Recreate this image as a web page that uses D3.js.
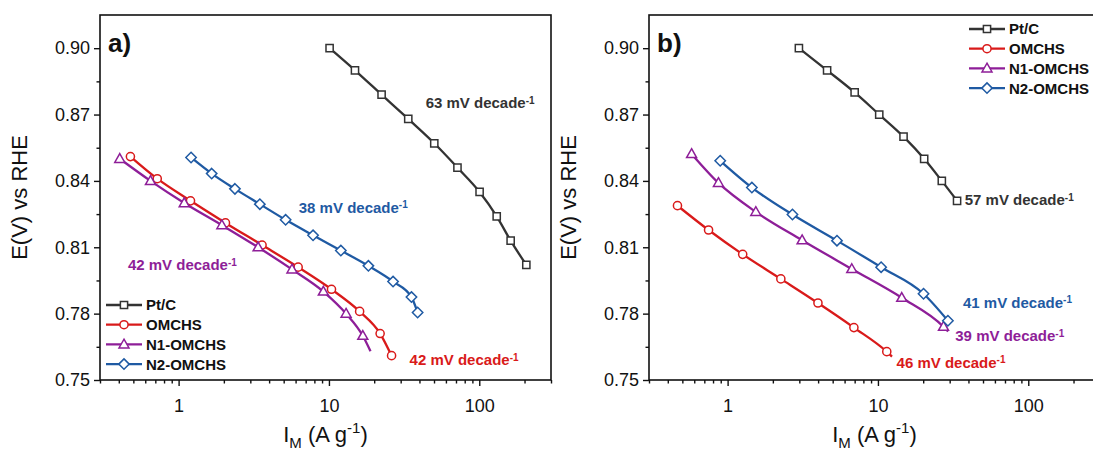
<!DOCTYPE html>
<html>
<head>
<meta charset="utf-8">
<style>
  body { margin: 0; background: #fff; }
  text { font-family: Arial, "Liberation Sans", sans-serif; }
  .tick text { font-size: 18px; fill: #111; }
  .tick line { stroke: #111; stroke-width: 1.4px; }
</style>
<script src="https://d3js.org/d3.v7.min.js"></script>
</head>
<body>
<div id="chart"></div>
<script>
// ---- data ----
// panel a)
var aPtC_I  = [10.1, 14.9, 22.4, 33.7, 50.2, 71.6, 100.5, 130.6, 161.7, 205.6];
var aPtC_E  = [0.900, 0.890, 0.879, 0.868, 0.857, 0.846, 0.835, 0.824, 0.813, 0.802];
var aOM_I   = [0.478, 0.721, 1.20, 2.05, 3.59, 6.24, 10.4, 16.0, 21.9, 26.1];
var aOM_E   = [0.851, 0.841, 0.831, 0.821, 0.811, 0.801, 0.791, 0.781, 0.771, 0.761];
var aN1_I   = [0.406, 0.650, 1.09, 1.94, 3.38, 5.68, 9.18, 13.0, 16.8, 18.9];
var aN1_E   = [0.850, 0.840, 0.830, 0.820, 0.810, 0.800, 0.790, 0.780, 0.770, 0.763];
var aN2_I   = [1.21, 1.66, 2.37, 3.47, 5.15, 7.84, 12.0, 18.3, 26.7, 35.4, 38.9];
var aN2_E   = [0.8506, 0.8433, 0.8364, 0.8295, 0.8224, 0.8154, 0.8085, 0.8016, 0.7945, 0.7875, 0.7805];
// panel b)
var bPtC_I  = [2.98, 4.59, 7.0, 10.2, 14.8, 20.3, 26.6, 33.6];
var bPtC_E  = [0.900, 0.890, 0.880, 0.870, 0.860, 0.850, 0.840, 0.831];
var bOM_I   = [0.464, 0.747, 1.26, 2.26, 3.99, 6.92, 11.45, 12.4];
var bOM_E   = [0.8288, 0.8178, 0.8068, 0.7957, 0.7848, 0.7737, 0.7628, 0.7606];
var bN1_I   = [0.576, 0.869, 1.54, 3.13, 6.70, 14.4, 27.3, 29.3];
var bN1_E   = [0.8522, 0.8391, 0.8260, 0.8132, 0.8002, 0.7872, 0.7741, 0.7719];
var bN2_I   = [0.893, 1.45, 2.70, 5.34, 10.5, 20.1, 29.2];
var bN2_E   = [0.8491, 0.8370, 0.8248, 0.8130, 0.8010, 0.7890, 0.7768];

var seriesNames = ["Pt/C", "OMCHS", "N1-OMCHS", "N2-OMCHS"];
var seriesColors = ["#333333", "#d91a1a", "#8e1e98", "#1f5aa3"];
var seriesSymbols = ["square", "circle", "triangle", "diamond"];

var yTicks = [0.75, 0.78, 0.81, 0.84, 0.87, 0.90];
var yMinor = [0.765, 0.795, 0.825, 0.855, 0.885];
var xTicks = [1, 10, 100];
var xMinor = [0.3, 0.4, 0.5, 0.6, 0.7, 0.8, 0.9, 2, 3, 4, 5, 6, 7, 8, 9, 20, 30, 40, 50, 60, 70, 80, 90, 200, 300];

// slope labels: [text, I, E, colour index]
var aNotes = [["63", 44, 0.8752, 0], ["38", 6.3, 0.8281, 3], ["42", 0.46, 0.8020, 2], ["42", 34.4, 0.7590, 1]];
var bNotes = [["57", 37.8, 0.8314, 0], ["41", 36.8, 0.7850, 3], ["39", 32.7, 0.7699, 2], ["46", 13.3, 0.7580, 1]];

// ---- layout ----
var W = 1093, H = 450;
var plotTop = 15, plotBottom = 380, pw = 451;

var svg = d3.select("#chart").append("svg")
    .attr("width", W).attr("height", H);

var y = d3.scaleLinear().domain([0.75, 0.915]).range([plotBottom, plotTop]);

function drawPanel(left, label, series, notes, legendPos) {
  var g = svg.append("g").attr("transform", "translate(" + left + ",0)");
  var x = d3.scaleLog().domain([0.3, 300]).range([0, pw]);

  // axes
  g.append("g").attr("transform", "translate(0," + plotBottom + ")")
    .call(d3.axisBottom(x).tickValues(xMinor).tickSize(3.5).tickFormat(""))
    .call(function(a) { a.select(".domain").remove(); });
  g.append("g").attr("transform", "translate(0," + plotBottom + ")")
    .call(d3.axisBottom(x).tickValues(xTicks).tickSize(6).tickPadding(13).tickFormat(d3.format("d")))
    .call(function(a) { a.select(".domain").remove(); });
  g.append("g")
    .call(d3.axisLeft(y).tickValues(yMinor).tickSize(3.5).tickFormat(""))
    .call(function(a) { a.select(".domain").remove(); });
  g.append("g")
    .call(d3.axisLeft(y).tickValues(yTicks).tickSize(6).tickPadding(4).tickFormat(d3.format(".2f")))
    .call(function(a) { a.select(".domain").remove(); });

  g.append("rect")
    .attr("x", 0).attr("y", plotTop).attr("width", pw).attr("height", plotBottom - plotTop)
    .attr("fill", "none").attr("stroke", "#111").attr("stroke-width", 1.6);

  // axis titles
  var xt = g.append("text")
    .attr("x", pw / 2).attr("y", plotBottom + 62)
    .attr("text-anchor", "middle")
    .style("font-size", "22px").attr("fill", "#111");
  xt.append("tspan").text("I");
  xt.append("tspan").attr("dy", 6).style("font-size", "15px").text("M");
  xt.append("tspan").attr("dy", -6).text(" (A g");
  xt.append("tspan").attr("dy", -9).style("font-size", "15px").text("-1");
  xt.append("tspan").attr("dy", 9).text(")");

  g.append("text")
    .attr("transform", "translate(" + (-73) + "," + ((plotTop + plotBottom) / 2) + ") rotate(-90)")
    .attr("text-anchor", "middle")
    .style("font-size", "22px").attr("fill", "#111")
    .text("E(V) vs RHE");

  // panel label
  g.append("text")
    .attr("x", 8).attr("y", 52)
    .style("font-size", "26px").style("font-weight", "bold").attr("fill", "#111")
    .text(label);

  var line = d3.line()
    .x(function(d) { return x(d[0]); })
    .y(function(d) { return y(d[1]); })
    .curve(d3.curveMonotoneX);

  series.forEach(function(s, i) {
    var pts = s.I.map(function(v, k) { return [v, s.E[k]]; });
    g.append("path").datum(pts)
      .attr("fill", "none").attr("stroke", seriesColors[i])
      .attr("stroke-width", 2.3).attr("d", line);
    var mk = s.tail ? pts.slice(0, -1) : pts;
    drawMarkers(g, mk.map(function(p) { return [x(p[0]), y(p[1])]; }), i);
  });

  // slope labels
  notes.forEach(function(n) {
    var t = g.append("text")
      .attr("x", x(n[1])).attr("y", y(n[2])).attr("dy", "0.36em")
      .style("font-size", "15px").style("font-weight", "bold")
      .attr("fill", seriesColors[n[3]]);
    t.append("tspan").text(n[0] + " mV decade");
    t.append("tspan").attr("dy", "-0.45em").style("font-size", "10px").text("-1");
  });

  // legend
  seriesNames.forEach(function(name, i) {
    var ly = legendPos[1] + i * 19.7;
    g.append("line")
      .attr("x1", legendPos[0]).attr("x2", legendPos[0] + 36)
      .attr("y1", ly).attr("y2", ly)
      .attr("stroke", seriesColors[i]).attr("stroke-width", 2.3);
    drawMarkers(g, [[legendPos[0] + 18, ly]], i);
    g.append("text")
      .attr("x", legendPos[0] + 40).attr("y", ly).attr("dy", "0.36em")
      .style("font-size", "15px").style("font-weight", "bold").attr("fill", "#111")
      .text(name);
  });
}

function drawMarkers(g, pts, i) {
  var sym = seriesSymbols[i];
  var sel = g.append("g").selectAll("path").data(pts).enter().append("path")
    .attr("fill", "#fff").attr("stroke", seriesColors[i]).attr("stroke-width", 1.5)
    .attr("transform", function(p) { return "translate(" + p[0] + "," + p[1] + ")"; });
  if (sym === "square") sel.attr("d", "M-3.6,-3.6H3.6V3.6H-3.6Z");
  if (sym === "circle") sel.attr("d", d3.symbol(d3.symbolCircle, 52)());
  if (sym === "triangle") sel.attr("d", "M0,-5.2L5,3.6H-5Z");
  if (sym === "diamond") sel.attr("d", "M0,-5.2L5.2,0L0,5.2L-5.2,0Z");
}

drawPanel(100, "a)",
  [{I: aPtC_I, E: aPtC_E}, {I: aOM_I, E: aOM_E}, {I: aN1_I, E: aN1_E, tail: true}, {I: aN2_I, E: aN2_E}],
  aNotes, [6, 305]);

drawPanel(649, "b)",
  [{I: bPtC_I, E: bPtC_E}, {I: bOM_I, E: bOM_E, tail: true}, {I: bN1_I, E: bN1_E, tail: true}, {I: bN2_I, E: bN2_E}],
  bNotes, [320, 29]);
</script>
</body>
</html>
